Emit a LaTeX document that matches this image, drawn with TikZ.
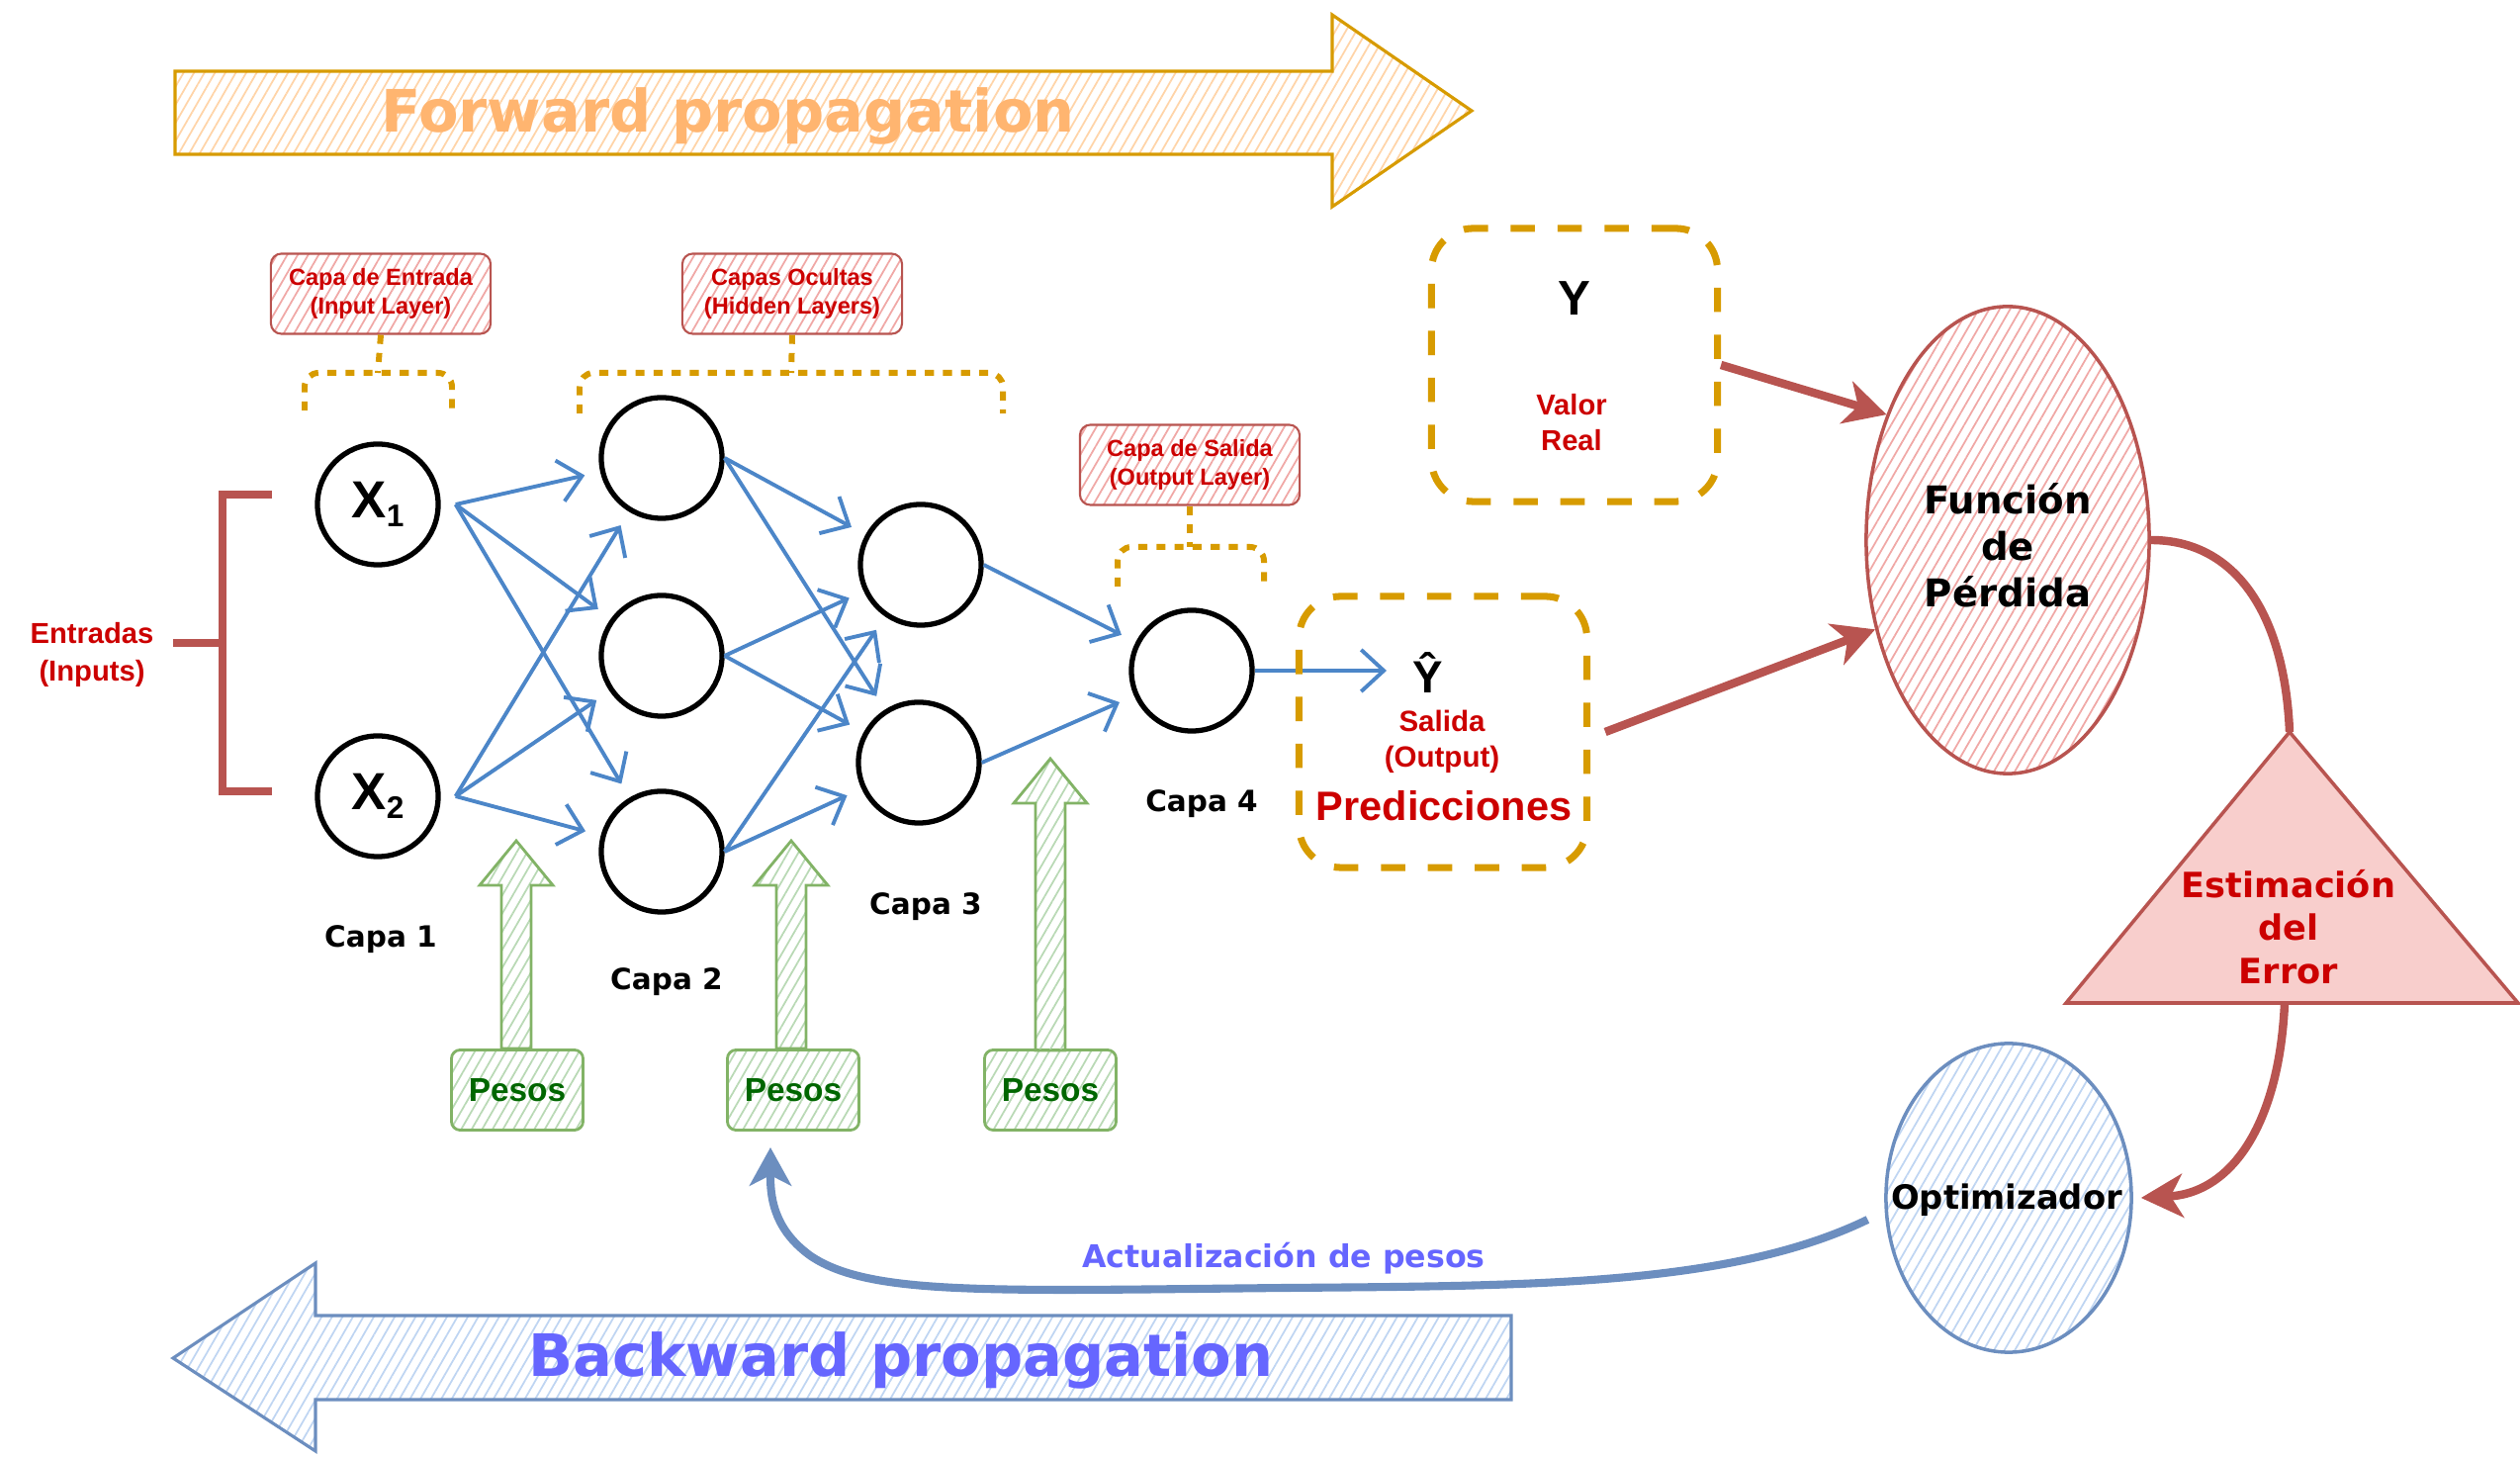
\documentclass[tikz,border=0pt]{standalone}
\usepackage{fontspec}
\setmainfont{Liberation Sans}
\newfontfamily\dv{DejaVu Sans}
\usetikzlibrary{arrows.meta,patterns.meta,shapes.geometric}
\definecolor{ored}{HTML}{B85450}
\definecolor{tred}{HTML}{CC0000}
\definecolor{redfill}{HTML}{F8CECC}
\definecolor{redhatch}{HTML}{F0A8A6}
\definecolor{gold}{HTML}{D79B00}
\definecolor{fwdtext}{HTML}{FFB570}
\definecolor{fwdhatch}{HTML}{FFD4A8}
\definecolor{bblue}{HTML}{6C8EBF}
\definecolor{bluehatch}{HTML}{BFD5F2}
\definecolor{bwdtext}{HTML}{6666FF}
\definecolor{netblue}{RGB}{76,134,200}
\definecolor{gstroke}{HTML}{82B366}
\definecolor{ghatch}{HTML}{B9D9B5}
\definecolor{gtext}{HTML}{006600}
\newcommand\greenup[3]{%
  \draw[gstroke,line width=0.8pt,hatch=ghatch]
    ({#1-15},#2) -- ({#1-15},{#3+45}) -- ({#1-37},{#3+45}) -- (#1,#3)
    -- ({#1+37},{#3+45}) -- ({#1+15},{#3+45}) -- ({#1+15},#2) -- cycle;}
\begin{document}
\begin{tikzpicture}[x=0.01cm,y=-0.01cm,
  hatch/.style={pattern={Lines[angle=60,distance=2.6pt,line width=0.5pt]},pattern color=#1},
  neuron/.style={circle,draw=black,line width=1.5pt,minimum size=1.22cm,inner sep=0pt},
  barb/.style={-{Straight Barb[length=6.5pt,width=12pt,line width=1.1pt]}},
  conn/.style={draw=netblue,line width=1.1pt,barb,shorten >=0.16cm},
  lblbox/.style={draw=ored,line width=0.6pt,rounded corners=3pt,hatch=redhatch,text=tred,
    font=\fontsize{6.7}{8.2}\selectfont\bfseries,align=center,minimum width=2.22cm,minimum height=0.81cm,inner sep=0pt},
  dotbr/.style={draw=gold,line width=1.7pt,dash pattern=on 2.6pt off 2.6pt,rounded corners=4pt},
  dashbox/.style={draw=gold,line width=2pt,dash pattern=on 7pt off 6.5pt,rounded corners=12pt,inner sep=0pt},
  pesobox/.style={draw=gstroke,line width=0.8pt,rounded corners=2.5pt,hatch=ghatch,text=gtext,
    font=\fontsize{9.5}{11}\selectfont\bfseries,minimum width=1.33cm,minimum height=0.81cm,inner sep=0pt},
  capa/.style={font=\dv\bfseries\fontsize{8.4}{10}\selectfont,inner sep=0pt},
  redarr/.style={draw=ored,line width=2.4pt,-{Stealth[length=12pt,width=12.5pt,inset=3.5pt]}},
  ]
\useasboundingbox (0,0) rectangle (2548,1474);

% Forward arrow
\draw[gold,line width=0.9pt,hatch=fwdhatch] (177,72) -- (1347,72) -- (1347,15) -- (1488,112)
  -- (1347,209) -- (1347,156) -- (177,156) -- cycle;
\node[text=fwdtext,font=\dv\bfseries\fontsize{16.8}{20}\selectfont] (fwd) at (736,117) {Forward propagation};

% Backward arrow
\draw[bblue,line width=0.9pt,hatch=bluehatch] (175,1373) -- (319,1277) -- (319,1330) -- (1528,1330)
  -- (1528,1415) -- (319,1415) -- (319,1467) -- cycle;
\node[text=bwdtext,font=\dv\bfseries\fontsize{16.8}{20}\selectfont] (bwd) at (911,1375) {Backward propagation};

% Layer label boxes
\node[lblbox] (lbin) at (385,297) {Capa de Entrada\\(Input Layer)};
\node[lblbox] (lbhid) at (801,297) {Capas Ocultas\\(Hidden Layers)};
\node[lblbox] (lbout) at (1203,470) {Capa de Salida\\(Output Layer)};

% Dotted brackets
\draw[dotbr] (308,415) -- (308,377) -- (457,377) -- (457,415);
\draw[dotbr] (lbin.south) -- (382,377);
\draw[dotbr] (586,418) -- (586,377) -- (1014,377) -- (1014,418);
\draw[dotbr] (lbhid.south) -- (800,377);
\draw[dotbr] (1130,593) -- (1130,553) -- (1278,553) -- (1278,593);
\draw[dotbr] (lbout.south) -- (1203,553);

% Inputs bracket
\draw[ored,line width=2.5pt] (275,500) -- (225,500) -- (225,800) -- (275,800);
\draw[ored,line width=2.5pt] (175,650) -- (225,650);
\node[text=tred,font=\fontsize{8.3}{11}\selectfont\bfseries,align=center] (ent) at (93,662) {Entradas\\(Inputs)};

% Neurons
\node[neuron] (X1) at (382,510) {\fontsize{15}{18}\selectfont\bfseries X\raisebox{-2.5pt}{\fontsize{9}{10}\selectfont 1}};
\node[neuron] (X2) at (382,805) {\fontsize{15}{18}\selectfont\bfseries X\raisebox{-2.5pt}{\fontsize{9}{10}\selectfont 2}};
\node[neuron] (H11) at (669,463) {};
\node[neuron] (H12) at (669,663) {};
\node[neuron] (H13) at (669,861) {};
\node[neuron] (H21) at (931,571) {};
\node[neuron] (H22) at (929,771) {};
\node[neuron] (O) at (1205,678) {};

% Network connections
\foreach \s in {X1,X2}{\foreach \t in {H11,H12,H13}{\draw[conn] ([xshift=0.15cm]\s.east) -- (\t);}}
\foreach \s in {H11,H12,H13}{\foreach \t in {H21,H22}{\draw[conn] (\s.east) -- (\t);}}
\foreach \s in {H21,H22}{\draw[conn] (\s.east) -- (O);}
\coordinate (yt) at (1402,678);
\draw[draw=netblue,line width=1.1pt,barb] (O.east) -- (yt);

% Layer names
\node[capa] (c1) at (385,950) {Capa 1};
\node[capa] (c2) at (674,993) {Capa 2};
\node[capa] (c3) at (936,917) {Capa 3};
\node[capa] (c4) at (1215,813) {Capa 4};

% Weights
\node[pesobox] (p1) at (523,1102) {Pesos};
\node[pesobox] (p2) at (802,1102) {Pesos};
\node[pesobox] (p3) at (1062,1102) {Pesos};
\greenup{522}{1060}{850}
\greenup{800}{1060}{850}
\greenup{1062}{1062}{767}

% Real value box
\node[dashbox,minimum width=2.89cm,minimum height=2.76cm] (ybox) at (1592,369) {};
\node[font=\fontsize{14}{16}\selectfont\bfseries] (ylab) at (1592,302) {Y};
\node[text=tred,font=\fontsize{8.3}{10.2}\selectfont\bfseries,align=center] (vreal) at (1589,427) {Valor\\Real};

% Output box
\node[dashbox,minimum width=2.91cm,minimum height=2.74cm] (obox) at (1459,740) {};
\node[font=\fontsize{13}{16}\selectfont\bfseries] (yh) at (1444,680) {Ŷ};
\node[text=tred,font=\fontsize{8.4}{10.2}\selectfont\bfseries,align=center] (sal) at (1458,750) {Salida\\(Output)};
\node[text=tred,font=\fontsize{11.8}{14}\selectfont\bfseries] (pred) at (1460,815) {Predicciones};

% Loss function
\node[ellipse,draw=ored,line width=1pt,hatch=redhatch,minimum width=2.86cm,minimum height=4.72cm,inner sep=0pt] (fun) at (2030,546) {};
\node[align=center,font=\dv\bfseries\fontsize{11}{13.4}\selectfont] (funlab) at (2030,551) {Función\\de\\Pérdida};

% Error triangle
\coordinate (triA) at (2315,740);
\coordinate (triB) at (2546,1014);
\coordinate (triC) at (2089,1014);
\draw[ored,line width=1pt,fill=redfill] (triA) -- (triB) -- (triC) -- cycle;
\node[text=tred,align=center,font=\dv\bfseries\fontsize{10}{12.3}\selectfont] (err) at (2314,937) {Estimación\\del\\Error};
\coordinate (triBot) at (2310,1014);

% Optimizer
\node[ellipse,draw=bblue,line width=1pt,hatch=bluehatch,minimum width=2.48cm,minimum height=3.12cm,inner sep=0pt] (opt) at (2031,1211) {};
\node[font=\dv\bfseries\fontsize{9.6}{11}\selectfont] (optlab) at (2029,1213) {Optimizador};

% Red connectors
\draw[redarr] (ybox.east) -- (fun.134);
\draw[redarr] ([xshift=0.15cm]obox.east) -- (fun.214);
\draw[ored,line width=2.4pt] (fun.east) .. controls (2260,546) and (2310,620) .. (triA);
\draw[redarr] (triBot) .. controls (2305,1130) and (2260,1206) .. ([xshift=0.08cm]opt.east);

% Update arrow
\coordinate (upd) at (779,1160);
\draw[bblue,line width=2.3pt] ([xshift=-0.18cm]opt.190) .. controls (1750,1300) and (1550,1300) .. (1300,1302)
  .. controls (1000,1305) and (880,1310) .. (820,1270)
  .. controls (785,1245) and (779,1215) .. (779,1190);
\draw[bblue,line width=2.3pt,-{Stealth[length=11pt,width=12pt,inset=3pt]}] (779,1195) -- (upd);
\node[text=bwdtext,font=\dv\bfseries\fontsize{9}{11}\selectfont] (updlab) at (1298,1272) {Actualización de pesos};
\end{tikzpicture}
\end{document}
